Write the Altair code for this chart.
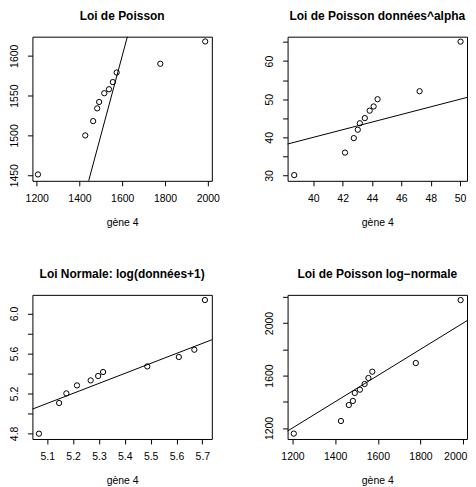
import altair as alt
import pandas as pd

# --- data ---
gene4_x = [1206, 1427, 1464, 1483, 1492, 1516, 1538, 1556, 1574, 1778, 1988]
poisson_y = [1451, 1500, 1518, 1534, 1542, 1553, 1558, 1567, 1579, 1590, 1618]

alpha_x = [38.7, 42.16, 42.76, 43.03, 43.17, 43.51, 43.84, 44.11, 44.38, 47.24, 50.03]
alpha_y = [30.1, 36.0, 39.8, 42.0, 43.7, 45.05, 47.0, 48.1, 50.0, 52.1, 65.1]

lognorm_x = [5.068, 5.146, 5.174, 5.215, 5.268, 5.297, 5.316, 5.487, 5.609, 5.669, 5.710]
lognorm_y = [4.797, 5.104, 5.200, 5.280, 5.330, 5.374, 5.414, 5.470, 5.564, 5.637, 6.134]

plnorm_y = [1157, 1253, 1375, 1406, 1467, 1492, 1535, 1581, 1629, 1695, 2175]

titles = ["Loi de Poisson", "Loi de Poisson données^alpha",
          "Loi Normale: log(données+1)", "Loi de Poisson log\u2212normale"]
xlabel = "gène 4"

FONT = "Liberation Sans"
W, H = 180, 144.6


def panel(title, xs, ys, xdom, ydom, xticks, yticks, xfmt, yfmt,
          ylab_expr=None, last_x_shift=0):
    df = pd.DataFrame({"x": xs, "y": ys})
    lo = min(xdom[0], ydom[0])
    hi = max(xdom[1], ydom[1])
    ldf = pd.DataFrame({"x": [lo, hi], "y": [lo, hi]})
    xsc = alt.Scale(domain=xdom, nice=False, zero=False)
    ysc = alt.Scale(domain=ydom, nice=False, zero=False)
    xkw = dict(values=xticks, format=xfmt, title=xlabel,
               labelAngle=0, labelAlign="center", labelBaseline="alphabetic",
               labelPadding=16, titleBaseline="alphabetic", titleY=45)
    if last_x_shift:
        xkw["labelOffset"] = {"condition": {"test": f"datum.value == {xticks[-1]}",
                                            "value": last_x_shift}, "value": 0}
    xax = alt.Axis(**xkw)
    ykw = dict(values=yticks, format=yfmt, title=None,
               labelAngle=270, labelAlign="center", labelBaseline="alphabetic",
               labelPadding=10)
    if ylab_expr:
        ykw["labelExpr"] = ylab_expr
    yax = alt.Axis(**ykw)
    line = alt.Chart(ldf).mark_line(color="black", strokeWidth=1, clip=True).encode(
        x=alt.X("x:Q", scale=xsc, axis=xax),
        y=alt.Y("y:Q", scale=ysc, axis=yax),
    )
    pts = alt.Chart(df).mark_point(shape="circle", filled=False, size=28,
                                   color="black", strokeWidth=1, opacity=1).encode(
        x=alt.X("x:Q", scale=xsc, axis=xax),
        y=alt.Y("y:Q", scale=ysc, axis=yax),
    )
    return alt.layer(line, pts).properties(
        width=W, height=H,
        title=alt.TitleParams(title, fontSize=12, fontWeight="bold", font=FONT,
                              color="black", offset=4.8, baseline="alphabetic",
                              frame="group", anchor="middle"),
    )


p1 = panel(titles[0], gene4_x, poisson_y, [1180, 2019], [1443, 1624],
           [1200, 1400, 1600, 1800, 2000], [1450, 1500, 1550, 1600], "d", "d")
p2 = panel(titles[1], alpha_x, alpha_y, [38.25, 50.47], [28.6, 66.4],
           [40, 42, 44, 46, 48, 50], [30, 35, 40, 45, 50, 55, 60, 65], "d", "d",
           "datum.value % 10 == 0 ? datum.label : ''")
p3 = panel(titles[2], lognorm_x, lognorm_y, [5.0427, 5.7367], [4.744, 6.186],
           [5.1, 5.2, 5.3, 5.4, 5.5, 5.6, 5.7], [4.8, 5.0, 5.2, 5.4, 5.6, 5.8, 6.0],
           ".1f", ".1f", "round(datum.value * 10) % 4 == 0 ? datum.label : ''")
p4 = panel(titles[3], gene4_x, plnorm_y, [1177, 2018], [1116, 2215],
           [1200, 1400, 1600, 1800, 2000], [1200, 1400, 1600, 1800, 2000, 2200],
           "d", "d", "datum.value % 400 == 0 ? datum.label : ''", last_x_shift=-8)

chart = alt.concat(p1, p2, p3, p4, columns=2,
                   spacing={"row": 114, "column": 76}, bounds="flush").properties(
    padding={"left": 0.5, "top": 0, "right": 0, "bottom": 0}
).configure_view(
    stroke="black", strokeWidth=1
).configure_axis(
    grid=False, domain=False, tickColor="black", tickSize=5, tickWidth=1,
    labelFont=FONT, labelFontSize=10.5, labelColor="black",
    titleFont=FONT, titleFontSize=10.5, titleFontWeight="normal", titleColor="black",
    labelOverlap=False, labelFlush=False,
)

chart.save("out.html", embed_options={"renderer": "svg", "actions": False})
